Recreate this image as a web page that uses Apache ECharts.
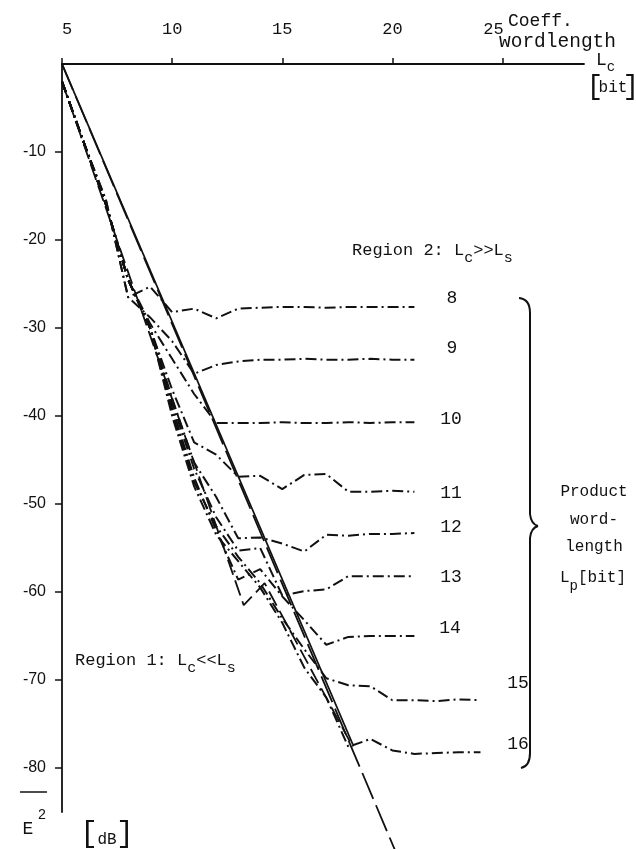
<!DOCTYPE html>
<html><head><meta charset="utf-8">
<script src="https://cdn.jsdelivr.net/npm/echarts@6/dist/echarts.min.js"></script>
<style>html,body{margin:0;padding:0;background:#fff}#c{width:636px;height:849px}</style>
</head><body><div id="c"></div>
<script>
// ---- data ----
const lcShort = [5,6,7,8,9,10,11,12,13,14,15,16,17,18,19,20,21];
const lcLong  = [5,6,7,8,9,10,11,12,13,14,15,16,17,18,19,20,21,22,23,24];
const xTicks = [5,10,15,20,25];
const yTicks = [-10,-20,-30,-40,-50,-60,-70,-80];
const curve8  = [-2,-9,-15.5,-26.5,-25.3,-28.2,-27.8,-28.9,-27.8,-27.7,-27.6,-27.6,-27.7,-27.6,-27.6,-27.6,-27.6];
const curve9  = [-2,-9,-15.5,-26.5,-28.8,-31.5,-35.2,-34.2,-33.8,-33.6,-33.6,-33.5,-33.6,-33.6,-33.5,-33.6,-33.6];
const curve10 = [-2,-9,-16,-24.5,-29.5,-33.5,-37.5,-40.8,-40.8,-40.8,-40.7,-40.8,-40.8,-40.7,-40.8,-40.7,-40.7];
const curve11 = [-2,-9,-16,-24.5,-30,-37,-43,-44.4,-46.9,-46.8,-48.3,-46.7,-46.6,-48.6,-48.6,-48.5,-48.6];
const curve12 = [-2,-9,-16,-24.5,-30,-38,-45.3,-49.2,-53.9,-53.8,-54.5,-55.4,-53.5,-53.6,-53.4,-53.4,-53.3];
const curve13 = [-2,-9,-16,-24.5,-30,-38.5,-46,-51.5,-55.3,-55.0,-60.4,-59.9,-59.7,-58.2,-58.2,-58.2,-58.2];
const curve14 = [-2,-9,-16,-24.5,-30,-39,-47,-53,-58.6,-57.4,-60.5,-63.2,-66,-65.1,-65,-65,-65];
const curve15 = [-2,-9,-16,-24.5,-30,-39.5,-47.5,-52.5,-56,-59,-63,-66.5,-69.8,-70.6,-70.7,-72.3,-72.3,-72.4,-72.2,-72.3];
const curve16 = [-2,-9,-16,-24.5,-30,-40,-48,-53.5,-56.5,-59.5,-63.5,-68.6,-72,-77.6,-76.7,-78,-78.4,-78.3,-78.2,-78.2];
const lineB = [[5,0],[18.2,-77.3]];
const lineD = [[5,0],[20.4,-91]];
const lineC = [[5,-2],[13.25,-61.5],[14.2,-59],[18.2,-77.6]];
const curveNames = ['8','9','10','11','12','13','14','15','16'];

// ---- chart ----
const ink = '#111';
const mono = '"Liberation Mono","DejaVu Sans Mono",monospace';
const sans = '"Liberation Sans","DejaVu Sans",sans-serif';
const pairs = (xs, ys) => xs.map((x, i) => [x, ys[i]]);
const dashDot = [11,4,2,4];

const curveData = [
  pairs(lcShort, curve8), pairs(lcShort, curve9), pairs(lcShort, curve10),
  pairs(lcShort, curve11), pairs(lcShort, curve12), pairs(lcShort, curve13),
  pairs(lcShort, curve14), pairs(lcLong, curve15), pairs(lcLong, curve16)
];

const series = curveData.map((d, i) => ({
  name: 'Lp ' + curveNames[i], type: 'line', data: d, showSymbol: false,
  lineStyle: {color: ink, width: 2, type: dashDot}, clip: false, silent: true
}));
series.push({type:'line', data: lineB, showSymbol:false, clip:false, silent:true,
  lineStyle:{color: ink, width: 1.8, type:'solid'}});
series.push({type:'line', data: lineD, showSymbol:false, clip:false, silent:true,
  lineStyle:{color: ink, width: 1.8, type:[28,7]}});
series.push({type:'line', data: lineC, showSymbol:false, clip:false, silent:true,
  lineStyle:{color: ink, width: 1.8, type:[16,6]}});

function row(x, y, parts, size) {
  const out = []; let cx = x;
  parts.forEach(p => {
    const s = p[2] || size;
    out.push({type:'text', x: cx, y: y + (p[1]||0), silent:true,
      style:{text:p[0], fontSize:s, fontFamily:mono, fill:ink, align:'left', verticalAlign:'middle'}});
    cx += p[0].length * s * 0.6;
  });
  return out;
}
function ctext(x, y, t, size, font) {
  return {type:'text', x: x, y: y, silent:true,
    style:{text:t, fontSize:size, fontFamily:font||mono, fill:ink, align:'center', verticalAlign:'middle'}};
}
function seg(x1,y1,x2,y2,w){ return {type:'line', silent:true, shape:{x1,y1,x2,y2}, style:{stroke:ink, lineWidth:w||2}}; }
function bez(x1,y1,cx,cy,x2,y2){ return {type:'bezierCurve', silent:true, shape:{x1,y1,x2,y2,cpx1:cx,cpy1:cy}, style:{stroke:ink, lineWidth:2, fill:null}}; }

const g = [];
g.push(...row(508, 21, [['Coeff.']], 18));
g.push(...row(499, 42, [['wordlength']], 19.5));
g.push(...row(596, 60, [['L'],['c',7,14]], 18));
g.push(ctext(595, 87, '[', 28), ctext(613, 88, 'bit', 16), ctext(631, 87, ']', 28));
g.push(...row(352, 250, [['Region 2: L'],['c',8,15],['>>L'],['s',8,15]], 17));
g.push(...row(75, 660, [['Region 1: L'],['c',8,15],['<<L'],['s',8,15]], 17));
const labPos = [[452,298],[452,348],[451,419],[451,493],[451,527],[451,577],[450,628],[518,683],[518,744]];
curveNames.forEach((n, i) => g.push(ctext(labPos[i][0], labPos[i][1], n, 18)));
// brace
g.push(bez(519,298,530,299,530,313), seg(530,313,530,514), bez(530,514,531,524,538,526),
       bez(538,526,531,528,530,538), seg(530,538,530,753), bez(530,753,530,766,521,768));
g.push(ctext(594, 492, 'Product', 16), ctext(594, 520, 'word-', 16), ctext(594, 547, 'length', 16));
g.push(...row(560, 578, [['L'],['p',8,14],['[bit]']], 16));
g.push(seg(20,792,47,792,1.5));
g.push(ctext(28, 829, 'E', 18), ctext(42, 815, '2', 14));
g.push(ctext(89, 834, '[', 30), ctext(107, 840, 'dB', 16), ctext(125, 834, ']', 30));

const chart = echarts.init(document.getElementById('c'));
chart.setOption({
  animation: false,
  backgroundColor: '#fff',
  grid: {left: 62, top: 64, width: 522, height: 748, containLabel: false},
  xAxis: {type:'value', position:'top', min:5, max:28.7, interval:5,
    axisLine:{show:true, onZero:false, lineStyle:{color:ink, width:1.8}},
    axisTick:{show:true, length:6, customValues: xTicks, lineStyle:{color:ink, width:1.5}},
    axisLabel:{show:true, margin:26, fontFamily:mono, fontSize:17, color:ink, customValues: xTicks, alignMinLabel:'left',
      formatter: v => (v === 25 ? '{r|25}' : String(v)),
      rich:{r:{fontFamily:mono, fontSize:17, color:ink, padding:[0,18,0,0]}}},
    splitLine:{show:false}},
  yAxis: {type:'value', min:-85, max:0,
    axisLine:{show:true, onZero:false, lineStyle:{color:ink, width:1.8}},
    axisTick:{show:true, length:7, customValues: yTicks, lineStyle:{color:ink, width:1.5}},
    axisLabel:{show:true, margin:16, fontFamily:sans, fontSize:16, color:ink, customValues: yTicks},
    splitLine:{show:false}},
  series: series,
  graphic: g
});
</script></body></html>
